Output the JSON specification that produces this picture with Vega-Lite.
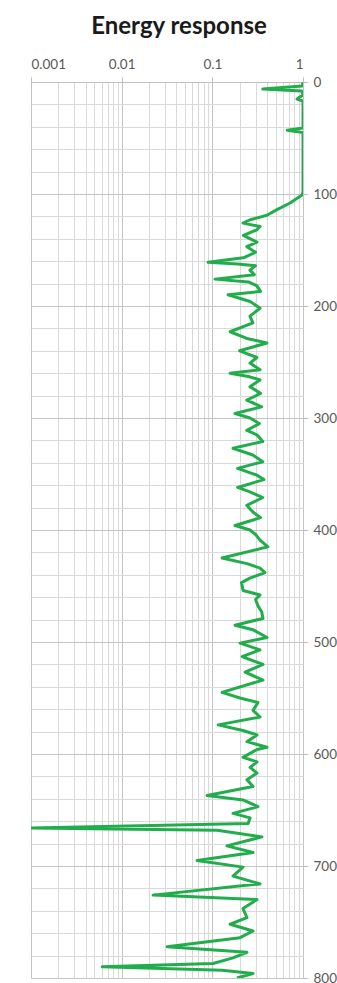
{
  "$schema": "https://vega.github.io/schema/vega-lite/v6.json",
  "width": 272,
  "height": 896,
  "autosize": {"type": "none"},
  "padding": {"left": 31, "top": 82, "right": 34, "bottom": 5},
  "background": "white",
  "title": {"text": "Energy response", "font": "Lato", "fontSize": 24, "fontWeight": "bold", "color": "#1a1a1a", "anchor": "middle", "dx": 12, "offset": 18},
  "data": {"values": [
    {"depth": 0, "energy": 1.0}, {"depth": 3.6, "energy": 0.98}, {"depth": 6.3, "energy": 0.36}, {"depth": 8, "energy": 0.97},
    {"depth": 11.6, "energy": 1.0}, {"depth": 15.2, "energy": 0.86}, {"depth": 17, "energy": 1.0}, {"depth": 41, "energy": 1.0},
    {"depth": 43, "energy": 0.67}, {"depth": 45, "energy": 1.0}, {"depth": 98, "energy": 1.0}, {"depth": 101, "energy": 0.975},
    {"depth": 108, "energy": 0.72}, {"depth": 114, "energy": 0.517}, {"depth": 119, "energy": 0.40}, {"depth": 123, "energy": 0.261},
    {"depth": 126, "energy": 0.218}, {"depth": 129, "energy": 0.336}, {"depth": 132, "energy": 0.31}, {"depth": 137, "energy": 0.22},
    {"depth": 143, "energy": 0.31}, {"depth": 147, "energy": 0.24}, {"depth": 152, "energy": 0.30}, {"depth": 157, "energy": 0.22},
    {"depth": 161, "energy": 0.0897}, {"depth": 162.5, "energy": 0.19}, {"depth": 164, "energy": 0.30}, {"depth": 168, "energy": 0.26},
    {"depth": 172, "energy": 0.29}, {"depth": 176, "energy": 0.107}, {"depth": 178.5, "energy": 0.25}, {"depth": 182, "energy": 0.31},
    {"depth": 187, "energy": 0.34}, {"depth": 190, "energy": 0.149}, {"depth": 196, "energy": 0.261}, {"depth": 202, "energy": 0.336},
    {"depth": 209, "energy": 0.26}, {"depth": 215, "energy": 0.28}, {"depth": 223, "energy": 0.157}, {"depth": 229, "energy": 0.24},
    {"depth": 233, "energy": 0.40}, {"depth": 240, "energy": 0.20}, {"depth": 246, "energy": 0.31}, {"depth": 251, "energy": 0.26},
    {"depth": 257, "energy": 0.336}, {"depth": 260, "energy": 0.157}, {"depth": 263, "energy": 0.25}, {"depth": 266, "energy": 0.336},
    {"depth": 272, "energy": 0.26}, {"depth": 278, "energy": 0.34}, {"depth": 284, "energy": 0.24}, {"depth": 290, "energy": 0.35},
    {"depth": 296, "energy": 0.178}, {"depth": 300, "energy": 0.26}, {"depth": 305, "energy": 0.33}, {"depth": 311, "energy": 0.24},
    {"depth": 315, "energy": 0.31}, {"depth": 321, "energy": 0.36}, {"depth": 327, "energy": 0.169}, {"depth": 333, "energy": 0.28},
    {"depth": 339, "energy": 0.36}, {"depth": 345, "energy": 0.19}, {"depth": 351, "energy": 0.31}, {"depth": 355, "energy": 0.37},
    {"depth": 362, "energy": 0.19}, {"depth": 366, "energy": 0.26}, {"depth": 371, "energy": 0.36}, {"depth": 378, "energy": 0.24},
    {"depth": 384, "energy": 0.28}, {"depth": 389, "energy": 0.34}, {"depth": 396, "energy": 0.178}, {"depth": 400, "energy": 0.26},
    {"depth": 404, "energy": 0.30}, {"depth": 409, "energy": 0.336}, {"depth": 415, "energy": 0.41}, {"depth": 425, "energy": 0.128},
    {"depth": 430, "energy": 0.241}, {"depth": 434, "energy": 0.336}, {"depth": 438, "energy": 0.381}, {"depth": 443, "energy": 0.26},
    {"depth": 447, "energy": 0.21}, {"depth": 454, "energy": 0.218}, {"depth": 458, "energy": 0.336}, {"depth": 462, "energy": 0.30},
    {"depth": 468, "energy": 0.32}, {"depth": 473, "energy": 0.35}, {"depth": 479, "energy": 0.362}, {"depth": 485, "energy": 0.178},
    {"depth": 489, "energy": 0.28}, {"depth": 496, "energy": 0.401}, {"depth": 501, "energy": 0.202}, {"depth": 507, "energy": 0.336},
    {"depth": 513, "energy": 0.213}, {"depth": 520, "energy": 0.362}, {"depth": 527, "energy": 0.23}, {"depth": 534, "energy": 0.362},
    {"depth": 545, "energy": 0.128}, {"depth": 550, "energy": 0.202}, {"depth": 554, "energy": 0.319}, {"depth": 561, "energy": 0.281},
    {"depth": 567, "energy": 0.336}, {"depth": 574, "energy": 0.116}, {"depth": 579, "energy": 0.218}, {"depth": 583, "energy": 0.311},
    {"depth": 589, "energy": 0.241}, {"depth": 594, "energy": 0.401}, {"depth": 596, "energy": 0.311}, {"depth": 603, "energy": 0.218},
    {"depth": 607, "energy": 0.311}, {"depth": 612, "energy": 0.261}, {"depth": 617, "energy": 0.311}, {"depth": 623, "energy": 0.241},
    {"depth": 629, "energy": 0.281}, {"depth": 637, "energy": 0.0874}, {"depth": 641, "energy": 0.218}, {"depth": 647, "energy": 0.319},
    {"depth": 653, "energy": 0.169}, {"depth": 657, "energy": 0.261}, {"depth": 662, "energy": 0.248}, {"depth": 666, "energy": 0.001},
    {"depth": 668, "energy": 0.113}, {"depth": 674, "energy": 0.353}, {"depth": 682, "energy": 0.145}, {"depth": 688, "energy": 0.281},
    {"depth": 695, "energy": 0.0678}, {"depth": 701, "energy": 0.218}, {"depth": 709, "energy": 0.169}, {"depth": 716, "energy": 0.336},
    {"depth": 726, "energy": 0.0222}, {"depth": 730, "energy": 0.311}, {"depth": 738, "energy": 0.218}, {"depth": 746, "energy": 0.241},
    {"depth": 752, "energy": 0.157}, {"depth": 758, "energy": 0.281}, {"depth": 764, "energy": 0.202}, {"depth": 772, "energy": 0.0317},
    {"depth": 777, "energy": 0.241}, {"depth": 782, "energy": 0.169}, {"depth": 787, "energy": 0.102}, {"depth": 790, "energy": 0.0061},
    {"depth": 793, "energy": 0.128}, {"depth": 796, "energy": 0.281}, {"depth": 800, "energy": 0.187}
  ]},
  "mark": {"type": "line", "color": "#22ad4c", "strokeWidth": 3, "clip": true, "strokeJoin": "round"},
  "encoding": {
    "x": {
      "field": "energy", "type": "quantitative",
      "scale": {"type": "log", "domain": [0.001, 1], "nice": false},
      "axis": {
        "orient": "top", "title": null, "format": "~g",
        "values": [0.001,0.002,0.003,0.004,0.005,0.006,0.007,0.008,0.009,0.01,0.02,0.03,0.04,0.05,0.06,0.07,0.08,0.09,0.1,0.2,0.3,0.4,0.5,0.6,0.7,0.8,0.9,1],
        "labelExpr": "indexof([0.001,0.01,0.1,1], datum.value) >= 0 ? datum.label : ''",
        "labelFont": "Lato", "labelFontSize": 13.5, "labelColor": "#595959", "labelPadding": 6,
        "domainColor": "#bfbfbf", "domainWidth": 1,
        "tickColor": "#bfbfbf", "tickSize": 5,
        "tickOpacity": {"condition": {"test": "indexof([0.001,0.01,0.1,1], datum.value) >= 0", "value": 1}, "value": 0},
        "gridColor": {"condition": {"test": "indexof([0.001,0.01,0.1,1], datum.value) >= 0", "value": "#c4c4c4"}, "value": "#d9d9d9"},
        "gridWidth": 1, "gridOpacity": 1
      }
    },
    "y": {
      "field": "depth", "type": "quantitative",
      "scale": {"domain": [0, 800], "reverse": true, "nice": false},
      "axis": {
        "orient": "right", "title": null,
        "values": [0,20,40,60,80,100,120,140,160,180,200,220,240,260,280,300,320,340,360,380,400,420,440,460,480,500,520,540,560,580,600,620,640,660,680,700,720,740,760,780,800],
        "labelExpr": "datum.value % 100 === 0 ? datum.label : ''",
        "labelFont": "Lato", "labelFontSize": 13.5, "labelColor": "#595959", "labelPadding": 5,
        "domain": false,
        "tickColor": "#bfbfbf", "tickSize": 5,
        "tickOpacity": {"condition": {"test": "datum.value % 100 === 0", "value": 1}, "value": 0},
        "gridColor": {"condition": {"test": "datum.value % 100 === 0", "value": "#c4c4c4"}, "value": "#d9d9d9"},
        "gridWidth": 1, "gridOpacity": 1
      }
    },
    "order": {"field": "depth", "type": "quantitative"}
  },
  "config": {"view": {"stroke": null}}
}
